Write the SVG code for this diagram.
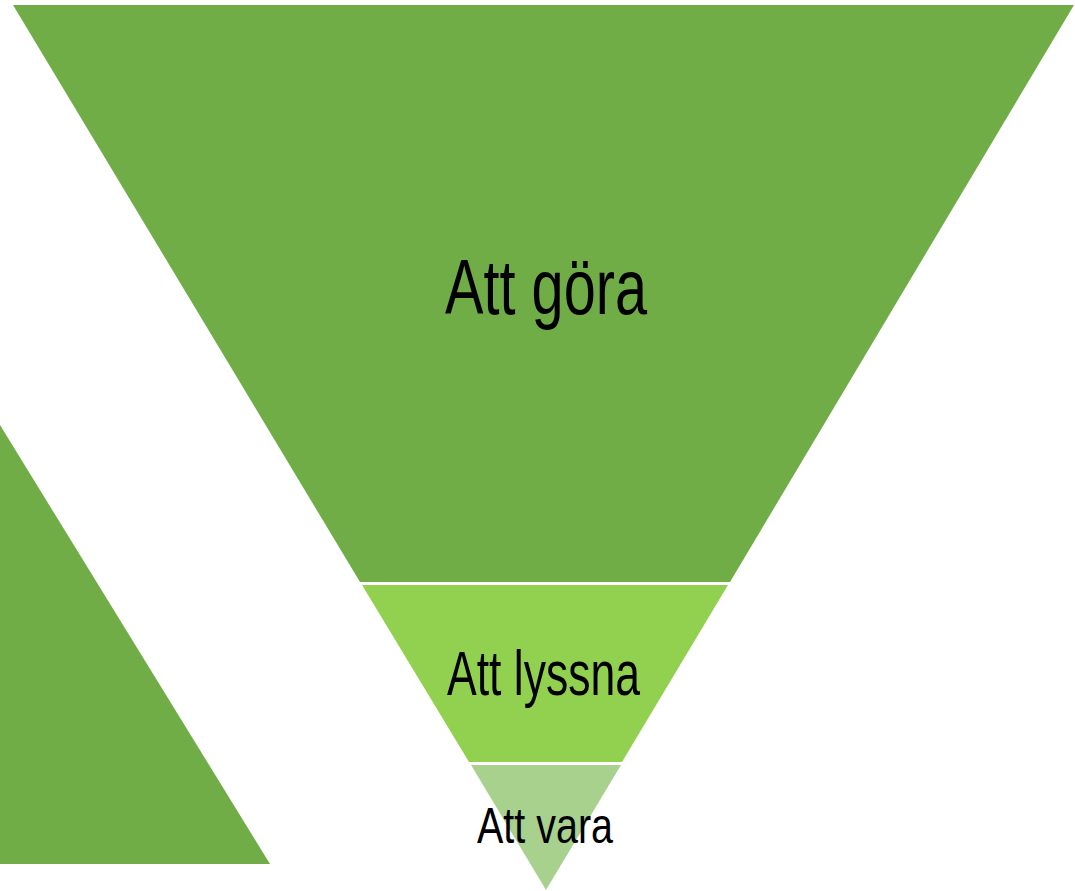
<svg xmlns="http://www.w3.org/2000/svg" width="1075" height="891" viewBox="0 0 1075 891">
<style>
.lbl{font-family:"Liberation Sans",Arial,sans-serif;fill:#000;text-anchor:start}
</style>
<rect width="1075" height="891" fill="#fff"/>
<g id="left-shape"><polygon points="0,425 270,864 0,864" fill="#70AD47"/></g>
<g id="node-gora">
<polygon points="13,5 1074,5 730,582 360,582" fill="#70AD47"/>
<text class="lbl" x="445" y="314" font-size="77" textLength="202" lengthAdjust="spacingAndGlyphs">Att göra</text>
</g>
<g id="node-lyssna">
<polygon points="362,585 728,585 622,762 469,762" fill="#92D050"/>
<text class="lbl" x="447" y="695" font-size="63" textLength="193" lengthAdjust="spacingAndGlyphs">Att lyssna</text>
</g>
<g id="node-vara">
<polygon points="471,765 621,765 546,890" fill="#A9D18E"/>
<text class="lbl" x="477" y="843" font-size="50" textLength="136" lengthAdjust="spacingAndGlyphs">Att vara</text>
</g>
<g id="connectors"/>
</svg>
